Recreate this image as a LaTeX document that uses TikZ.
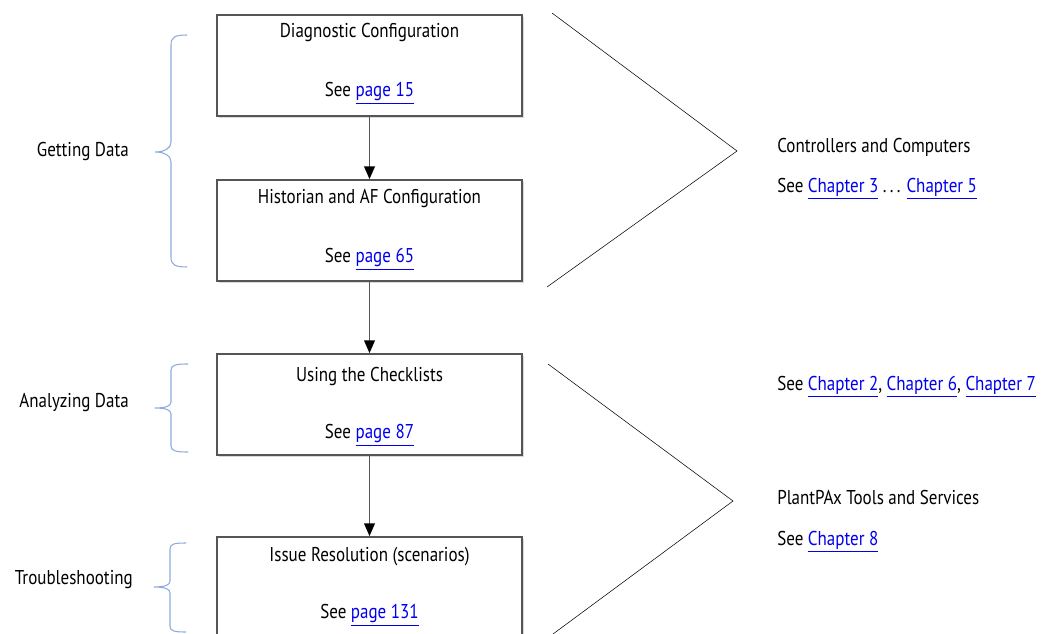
\documentclass[tikz,border=0pt]{standalone}
\usepackage{fontspec}
\setmainfont{PT Sans}[FakeStretch=0.85]
\usetikzlibrary{arrows.meta, shadows}
\definecolor{boxline}{HTML}{555555}
\definecolor{linkblue}{HTML}{0000EE}
\definecolor{bracecol}{HTML}{8FAADC}
\newcommand{\lnk}[1]{\textcolor{linkblue}{\underline{#1}}}

\begin{document}
\begin{tikzpicture}[x=0.75pt, y=-0.75pt,
    stepbox/.style={rectangle, draw=boxline, line width=1.3pt, fill=white, minimum width=228.75pt, minimum height=75.75pt, drop shadow={shadow xshift=1.5pt, shadow yshift=-1.5pt, opacity=0.3}},
    txt/.style={inner sep=0pt, font=\fontsize{15}{18}\selectfont},
    side/.style={txt, anchor=east},
    note/.style={txt, anchor=west},
    flow/.style={-{Triangle[length=9.5pt, width=8pt, color=black]}, draw=boxline, line width=1.1pt},
    brace/.style={draw=bracecol, line width=0.8pt},
    zig/.style={draw=black, line width=0.4pt}
]
\useasboundingbox (0,0) rectangle (1044,634);

% steps
\node[stepbox] (diag) at (369.5,65.5) {};
\node[stepbox] (hist) at (369.5,230.5) {};
\node[stepbox] (check) at (369.5,404.5) {};
\node[stepbox] (issue) at (369.5,587.5) {};

\node[txt] (diagt) at (369.5,33) {Diagnostic Configuration};
\node[txt] (diagr) at (369.5,93) {See \lnk{page 15}};
\node[txt] (histt) at (369.5,199) {Historian and AF Configuration};
\node[txt] (histr) at (369.5,259) {See \lnk{page 65}};
\node[txt] (checkt) at (369.5,376) {Using the Checklists};
\node[txt] (checkr) at (369.5,435) {See \lnk{page 87}};
\node[txt] (issuet) at (369.5,557) {Issue Resolution (scenarios)};
\node[txt] (issuer) at (369.5,615) {See \lnk{page 131}};

\draw[flow] (diag) -- (hist);
\draw[flow] (hist) -- (check);
\draw[flow] (check) -- (issue);

% phases
\node[side] (getting) at (129,152) {Getting Data};
\node[side] (analyzing) at (129,403) {Analyzing Data};
\node[side] (trouble) at (133,580) {Troubleshooting};

\draw[brace] (187,35) .. controls (175,35) and (171,37) .. (171,45) -- (171,142)
  .. controls (171,148) and (165,152) .. (155,152)
  .. controls (165,152) and (171,156) .. (171,162) -- (171,257)
  .. controls (171,265) and (175,267) .. (187,267);
\draw[brace] (188,364) .. controls (176,364) and (171,365) .. (171,370) -- (171,402)
  .. controls (171,406) and (166,408) .. (155,408)
  .. controls (166,408) and (171,410) .. (171,414) -- (171,446)
  .. controls (171,451) and (176,452) .. (188,452);
\draw[brace] (186,543) .. controls (174,543) and (170,544) .. (170,549) -- (170,581)
  .. controls (170,585) and (165,587) .. (154,587)
  .. controls (165,587) and (170,589) .. (170,593) -- (170,626)
  .. controls (170,631) and (174,632) .. (186,632);

% references
\coordinate (za) at (552,13);
\coordinate (zb) at (737,151);
\coordinate (zc) at (547,287);
\coordinate (zd) at (548,364);
\coordinate (ze) at (733,501);
\coordinate (zf) at (553,634);
\draw[zig] (za) -- (zb) -- (zc);
\draw[zig] (zd) -- (ze) -- (zf);

\node[note] (ctrl) at (777,147) {Controllers and Computers};
\node[note] (ctrlr) at (777,189) {See \lnk{Chapter 3} .\,.\,. \lnk{Chapter 5}};
\node[note] (chkr) at (777,387) {See \lnk{Chapter 2}, \lnk{Chapter 6}, \lnk{Chapter 7}};
\node[note] (tools) at (777,497) {PlantPAx Tools and Services};
\node[note] (toolsr) at (777,542) {See \lnk{Chapter 8}};
\end{tikzpicture}
\end{document}
